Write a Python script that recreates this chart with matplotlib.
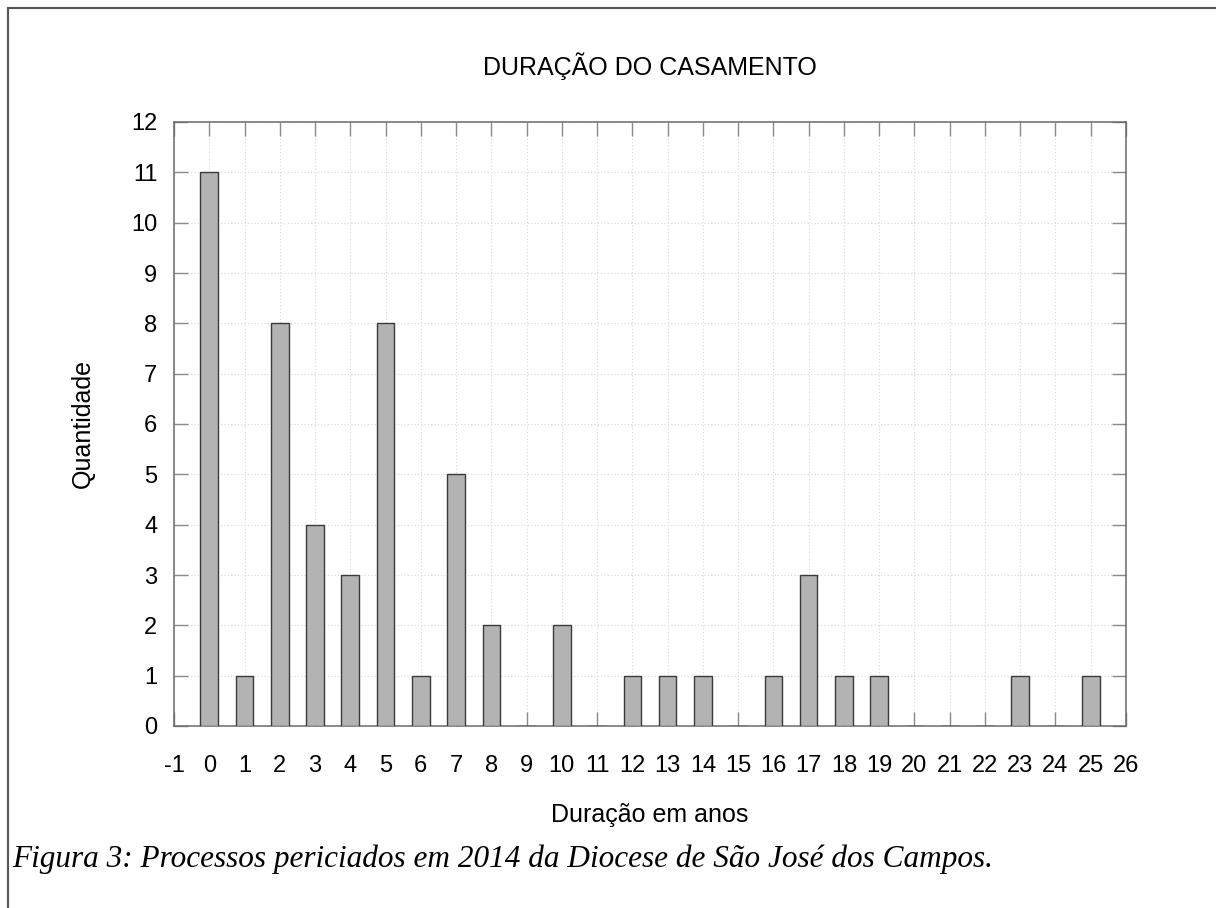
import numpy as np
import matplotlib.pyplot as plt
from matplotlib.lines import Line2D

# Duração do casamento (anos) e quantidade de processos
anos = list(range(0, 26))
quantidade = [11, 1, 8, 4, 3, 8, 1, 5, 2, 0, 2, 0, 1, 1, 1, 0, 1, 3, 1, 1, 0, 0, 0, 1, 0, 1]

x_ticks = list(range(-1, 27))
y_ticks = list(range(0, 13))

titulo = "DURAÇÃO DO CASAMENTO"
rotulo_x = "Duração em anos"
rotulo_y = "Quantidade"
legenda = "Figura 3: Processos periciados em 2014 da Diocese de São José dos Campos."

plt.rcParams['font.family'] = ['Liberation Sans', 'DejaVu Sans']
plt.rcParams['axes.unicode_minus'] = False

W, H = 1216, 908
fig = plt.figure(figsize=(W / 100, H / 100), dpi=100)

# axes placed in pixel terms
left, right, top, bottom = 174, 1126, 122, 726
ax = fig.add_axes([left / W, 1 - bottom / H, (right - left) / W, (bottom - top) / H])

ax.bar(anos, quantidade, width=0.5, color='#b3b3b3', edgecolor='#3a3a3a',
       linewidth=1.0, zorder=3)

ax.set_xlim(-1, 26)
ax.set_ylim(0, 12)
ax.set_xticks(x_ticks)
ax.set_yticks(y_ticks)
ax.set_axisbelow(True)
ax.grid(True, linestyle=(0, (1, 2)), color='#d8d8d8', linewidth=0.8)

ax.tick_params(axis='both', direction='in', length=10, width=1.0,
               color='#8a8a8a', labelsize=17, top=True, right=True)
ax.tick_params(axis='x', pad=21)
ax.tick_params(axis='y', pad=12)
for s in ax.spines.values():
    s.set_color('#6a6a6a')
    s.set_linewidth(1.1)

ax.set_title(titulo, fontsize=18, pad=34)
ax.set_xlabel(rotulo_x, fontsize=18)
ax.set_ylabel(rotulo_y, fontsize=18)
ax.xaxis.set_label_coords(0.5, (bottom - 803) / (bottom - top))
ax.yaxis.set_label_coords((95 - left) / (right - left), 0.5)

fig.text(12 / W, 1 - 867 / H, legenda, family=['Liberation Serif', 'DejaVu Serif'],
         style='italic', fontsize=22.5, ha='left', va='baseline')

# frame lines of the page (top and left)
fig.add_artist(Line2D([8 / W, 1], [1 - 8 / H, 1 - 8 / H], color='#555555', lw=1.5))
fig.add_artist(Line2D([8 / W, 8 / W], [0, 1 - 8 / H], color='#555555', lw=1.5))

fig.savefig("out.png", dpi=100)
